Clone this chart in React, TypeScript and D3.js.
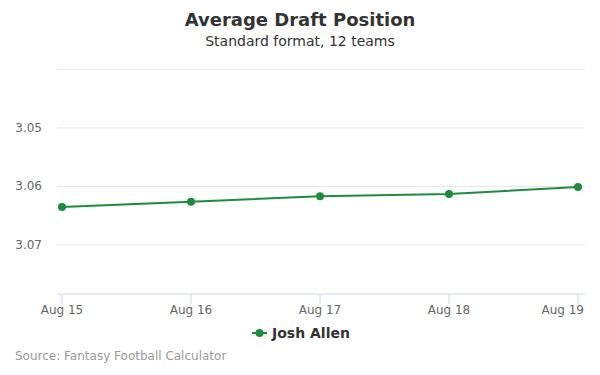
import React from 'react';
import * as d3 from 'd3';

const dates = ['Aug 15', 'Aug 16', 'Aug 17', 'Aug 18', 'Aug 19'];
const adp = [3.0635, 3.0626, 3.0617, 3.0613, 3.0601];
const yTicks = [3.04, 3.05, 3.06, 3.07];
const yLabels = ['', '3.05', '3.06', '3.07'];

const W = 600;
const H = 375;
const color = '#1e8c3c';
const font = '"DejaVu Sans", sans-serif';

const App: React.FC = () => {
  const x = d3.scalePoint<string>().domain(dates).range([62, 578]);
  const y = d3.scaleLinear().domain([3.04, 3.0784]).range([69.5, 294]);

  const line = d3.line<number>()
    .x((_, i) => x(dates[i]) ?? 0)
    .y(d => y(d));

  return (
    <svg width={W} height={H} style={{ position: 'absolute', left: 0, top: 0, fontFamily: font }}>
      <rect width={W} height={H} fill="#fff" />
      <text x={300} y={26} textAnchor="middle" fontSize={18} fontWeight="bold" fill="#333">
        Average Draft Position
      </text>
      <text x={300} y={46} textAnchor="middle" fontSize={14} fill="#333">
        Standard format, 12 teams
      </text>

      {yTicks.map((t, i) => (
        <g key={t}>
          <line x1={57} x2={585} y1={y(t)} y2={y(t)} stroke="#e6e6e6" />
          <text x={42} y={y(t) + 4} textAnchor="end" fontSize={12} fill="#666">{yLabels[i]}</text>
        </g>
      ))}

      <line x1={57} x2={585} y1={294} y2={294} stroke="#ccd6eb" />
      {dates.map((d, i) => {
        const last = i === dates.length - 1;
        return (
          <g key={d}>
            <line x1={x(d)} x2={x(d)} y1={294} y2={304} stroke="#ccd6eb" />
            <text x={last ? 584 : x(d)} y={314} textAnchor={last ? 'end' : 'middle'} fontSize={12} fill="#666">{d}</text>
          </g>
        );
      })}

      <path d={line(adp) ?? ''} fill="none" stroke={color} strokeWidth={2} />
      {adp.map((v, i) => (
        <circle key={i} cx={x(dates[i])} cy={y(v)} r={4} fill={color} />
      ))}

      <line x1={252} x2={267} y1={333} y2={333} stroke={color} strokeWidth={2} />
      <circle cx={259.5} cy={333} r={4} fill={color} />
      <text x={272} y={338} fontSize={14} fontWeight="bold" fill="#333">Josh Allen</text>

      <text x={15} y={360} fontSize={12} fill="#999">Source: Fantasy Football Calculator</text>
    </svg>
  );
};

export default App;
